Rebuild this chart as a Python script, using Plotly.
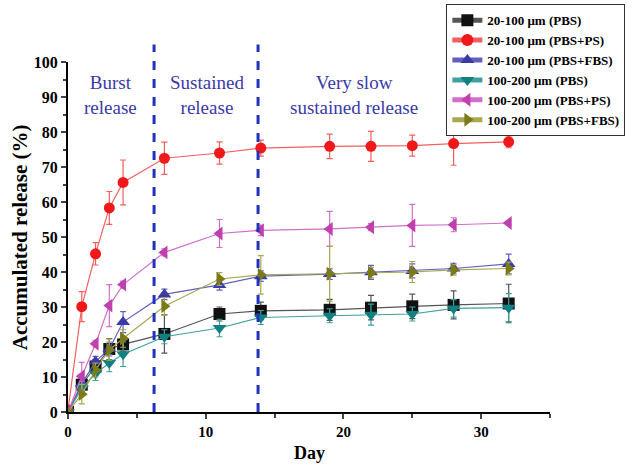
import plotly.graph_objects as go

days = [0, 1, 2, 3, 4, 7, 11, 14, 19, 22, 25, 28, 32]

names = ["20-100 μm (PBS)", "20-100 μm (PBS+PS)", "20-100 μm (PBS+FBS)",
         "100-200 μm (PBS)", "100-200 μm (PBS+PS)", "100-200 μm (PBS+FBS)"]

s1_pbs = [0, 7.8, 13.0, 18.0, 19.3, 22.3, 28.0, 28.9, 29.2, 29.8, 30.2, 30.6, 31.0]
s1_pbs_err = [0.5, 2, 2, 3, 2, 5.5, 2, 2.5, 3, 3.5, 3.5, 4, 5.5]

s1_ps = [0.5, 30.1, 45.2, 58.3, 65.6, 72.5, 74.0, 75.4, 75.9, 75.9, 76.1, 76.7, 77.2]
s1_ps_err = [1.5, 4.3, 3.2, 4.7, 6.4, 4.6, 3.2, 2.3, 3.5, 4.3, 3.0, 6.2, 1.7]

s1_fbs = [0, 8.1, 14.4, 18.0, 25.7, 33.6, 36.3, 38.8, 39.4, 39.9, 40.3, 41.0, 42.3]
s1_fbs_err = [0.5, 1.5, 1.5, 2, 3, 1.5, 1.5, 1.5, 1.5, 2, 2, 1.5, 2.8]

s2_pbs = [0, 6.8, 11.0, 14.0, 16.5, 21.5, 24.0, 27.0, 27.5, 27.8, 28.0, 29.6, 29.8]
s2_pbs_err = [0.5, 2, 2, 2.5, 3.5, 2, 2.5, 2, 2, 3, 2, 2.5, 4]

s2_ps = [0, 10.2, 19.5, 30.4, 36.4, 45.6, 51.0, 51.9, 52.3, 52.8, 53.3, 53.5, 54.0]
s2_ps_err = [0.5, 4, 1, 6, 1, 1, 4, 1.5, 5, 1, 6, 2, 0.5]

s2_fbs = [0, 5.1, 12.0, 17.8, 21.0, 30.2, 38.0, 39.2, 39.5, 39.8, 40.0, 40.6, 41.0]
s2_fbs_err = [0.5, 2.8, 2, 3, 2.5, 2.5, 1.8, 5.5, 7.8, 1.5, 3, 1.5, 1.8]

phase_bounds = [6.25, 13.8]
phase_labels = ["Burst<br>release", "Sustained<br>release", "Very slow<br>sustained release"]
phase_label_x = [3.1, 10.1, 20.8]

x_ticks = [0, 10, 20, 30]
y_ticks = list(range(0, 101, 10))

SERIF = "Liberation Serif"

values = [s1_pbs, s1_ps, s1_fbs, s2_pbs, s2_ps, s2_fbs]
errors = [s1_pbs_err, s1_ps_err, s1_fbs_err, s2_pbs_err, s2_ps_err, s2_fbs_err]
marker_colors = ["#111111", "#f01818", "#3a3aa8", "#108080", "#c040b0", "#7a7a18"]
line_colors = ["#555555", "#f06060", "#6060c0", "#40a0a0", "#d070c8", "#a8a850"]
symbols = ["square", "circle", "triangle-up", "triangle-down", "triangle-left", "triangle-right"]

fig = go.Figure()
for n, v, e, mc, lc, sym in zip(names, values, errors, marker_colors, line_colors, symbols):
    fig.add_trace(go.Scatter(
        x=days, y=v, name="<b>" + n + "</b>", mode="lines+markers",
        line=dict(color=lc, width=1.2),
        marker=dict(symbol=sym, size=12 if sym != "circle" else 11, color=mc),
        error_y=dict(type="data", array=e, visible=True, color=lc, thickness=1.2, width=3),
    ))

for xb in phase_bounds:
    fig.add_shape(type="line", xref="x", yref="paper", x0=xb, x1=xb, y0=0, y1=1.05,
                  line=dict(color="#2233bb", width=3, dash="dash"))

for t, xl in zip(phase_labels, phase_label_x):
    fig.add_annotation(x=xl, y=0.905, xref="x", yref="paper", text=t, showarrow=False,
                       font=dict(family=SERIF, size=19, color="#3a3aa8"),
                       align="center", yanchor="middle")

fig.add_annotation(x=0.5, y=-0.118, xref="paper", yref="paper", text="<b>Day</b>", showarrow=False,
                   font=dict(family=SERIF, size=18, color="black"), yanchor="middle")
fig.add_annotation(x=-0.099, y=0.5, xref="paper", yref="paper", text="<b>Accumulated release (%)</b>",
                   showarrow=False, textangle=-90,
                   font=dict(family=SERIF, size=21, color="black"), xanchor="center", yanchor="middle")

fig.update_layout(
    width=632, height=466,
    margin=dict(l=68, r=82, t=62, b=54, autoexpand=False),
    plot_bgcolor="white", paper_bgcolor="white",
    font=dict(family=SERIF, color="black"),
    showlegend=True,
    legend=dict(x=0.785, y=1.165, xanchor="left", yanchor="top",
                bordercolor="#333333", borderwidth=1, bgcolor="white",
                font=dict(family=SERIF, size=13, color="black"),
                tracegroupgap=0, itemsizing="constant"),
    xaxis=dict(range=[0, 35], tickvals=x_ticks, ticktext=["<b>%d</b>" % v for v in x_ticks],
               ticks="outside", ticklen=5, automargin=False,
               tickwidth=2, showline=True, linewidth=2, linecolor="black",
               showgrid=False, zeroline=False,
               tickfont=dict(family=SERIF, size=15, color="black"),
               minor=dict(tickvals=[5, 15, 25, 35], ticks="outside", ticklen=4, tickwidth=2)),
    yaxis=dict(range=[0, 100], tickvals=y_ticks,
               ticktext=["<b>%d</b>" % v for v in y_ticks],
               ticks="outside", ticklen=5, automargin=False,
               tickwidth=2, showline=True, linewidth=2, linecolor="black",
               showgrid=False, zeroline=False,
               tickfont=dict(family=SERIF, size=16, color="black"),
               minor=dict(tickvals=list(range(5, 100, 10)), ticks="outside", ticklen=3, tickwidth=2)),
)

fig.write_html("out.html")
